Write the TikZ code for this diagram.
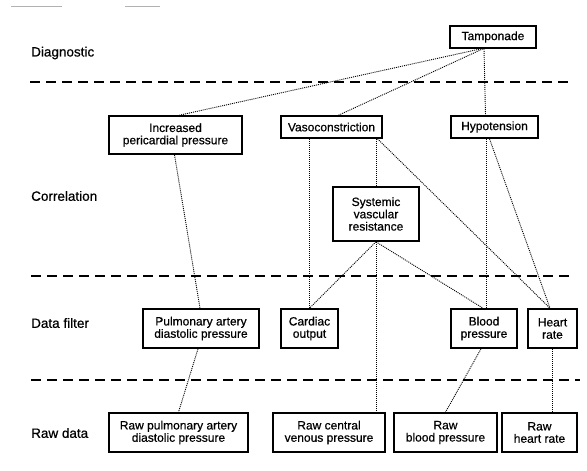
\documentclass[tikz,border=0pt]{standalone}
\usepackage{fontspec}
\setmainfont[FakeBold=0.6]{Liberation Sans}
\usetikzlibrary{calc}
\begin{document}
\begin{tikzpicture}[x=1pt,y=-1pt,
  box/.style={draw,line width=1.6pt,rectangle,inner sep=0pt,align=center,
    font=\fontsize{12}{12.3}\selectfont},
  tier/.style={anchor=west,inner sep=0pt,font=\fontsize{13.5}{14}\selectfont},
  link/.style={line width=0.9pt,dash pattern=on 1pt off 1pt},
  divider/.style={line width=1.1pt,dash pattern=on 10pt off 6pt},
  scrap/.style={gray!60,line width=1pt}]
\useasboundingbox (0,0) rectangle (587,471);

% stray marks along the top edge
\coordinate (s1a) at (11,6); \coordinate (s1b) at (62,6);
\coordinate (s2a) at (125,6); \coordinate (s2b) at (160,6);
\draw[scrap] (s1a) -- (s1b);
\draw[scrap] (s2a) -- (s2b);

% tier labels
\node[tier] (lDiag) at (31,53) {Diagnostic};
\node[tier] (lCorr) at (31,196) {Correlation};
\node[tier] (lFilt) at (31,323) {Data filter};
\node[tier] (lRaw)  at (31,433) {Raw data};

% tier dividers
\coordinate (d1a) at (30,82);  \coordinate (d1b) at (570,82);
\coordinate (d2a) at (31,276); \coordinate (d2b) at (572,276);
\coordinate (d3a) at (31,380); \coordinate (d3b) at (580,380);
\draw[divider] (d1a) -- (d1b);
\draw[divider] (d2a) -- (d2b);
\draw[divider] (d3a) -- (d3b);

% boxes
\node[box,minimum width=86pt,minimum height=22pt] (tamp) at (493,37) {Tamponade};
\node[box,minimum width=133pt,minimum height=38pt] (incr) at (175.5,135) {Increased\\pericardial pressure};
\node[box,minimum width=101pt,minimum height=22pt] (vaso) at (331.5,127) {Vasoconstriction};
\node[box,minimum width=87pt,minimum height=22pt] (hypo) at (494.5,127) {Hypotension};
\node[box,minimum width=86pt,minimum height=54pt] (svr) at (376,214) {Systemic\\vascular\\resistance};
\node[box,minimum width=116pt,minimum height=39pt] (pad) at (201,328.5) {Pulmonary artery\\diastolic pressure};
\node[box,minimum width=57pt,minimum height=39pt] (co) at (309.5,328.5) {Cardiac\\output};
\node[box,minimum width=66pt,minimum height=39pt] (bp) at (484,328.5) {Blood\\pressure};
\node[box,minimum width=49pt,minimum height=39pt] (hr) at (552.5,328.5) {Heart\\rate};
\node[box,minimum width=139pt,minimum height=39pt] (rpad) at (178.5,432.5) {Raw pulmonary artery\\diastolic pressure};
\node[box,minimum width=112pt,minimum height=39pt] (rcvp) at (329,432.5) {Raw central\\venous pressure};
\node[box,minimum width=103pt,minimum height=39pt] (rbp) at (445.5,432.5) {Raw\\blood pressure};
\node[box,minimum width=75pt,minimum height=39pt] (rhr) at (539.5,432.5) {Raw\\heart rate};

% connectors
\draw[link] ([xshift=-12pt]tamp.south) -- ([xshift=4pt]incr.north);
\draw[link] ([xshift=-10pt]tamp.south) -- ([xshift=7pt]vaso.north);
\draw[link] ([xshift=-9pt]tamp.south) -- ([xshift=-9pt]hypo.north);
\draw[link] ([xshift=-1pt]incr.south) -- ([xshift=-1pt]pad.north);
\draw[link] ([xshift=-3pt]pad.south) -- (rpad.north);
\draw[link] ([xshift=-22pt]vaso.south) -- (co.north);
\draw[link] ([xshift=44.5pt]vaso.south) -- (svr.north);
\draw[link] ([xshift=46pt]vaso.south) -- ([xshift=-2.5pt]hr.north);
\draw[link] (svr.south) -- ([xshift=47pt]rcvp.north);
\draw[link] (svr.south) -- (co.north);
\draw[link] (svr.south) -- ([xshift=-1pt]bp.north);
\draw[link] ([xshift=-8.5pt]hypo.south) -- ([xshift=2pt]bp.north);
\draw[link] ([xshift=-5pt]hypo.south) -- ([xshift=-2.5pt]hr.north);
\draw[link] ([xshift=-3pt]bp.south) -- (rbp.north);
\draw[link] (hr.south) -- ([xshift=13pt]rhr.north);
\end{tikzpicture}
\end{document}
